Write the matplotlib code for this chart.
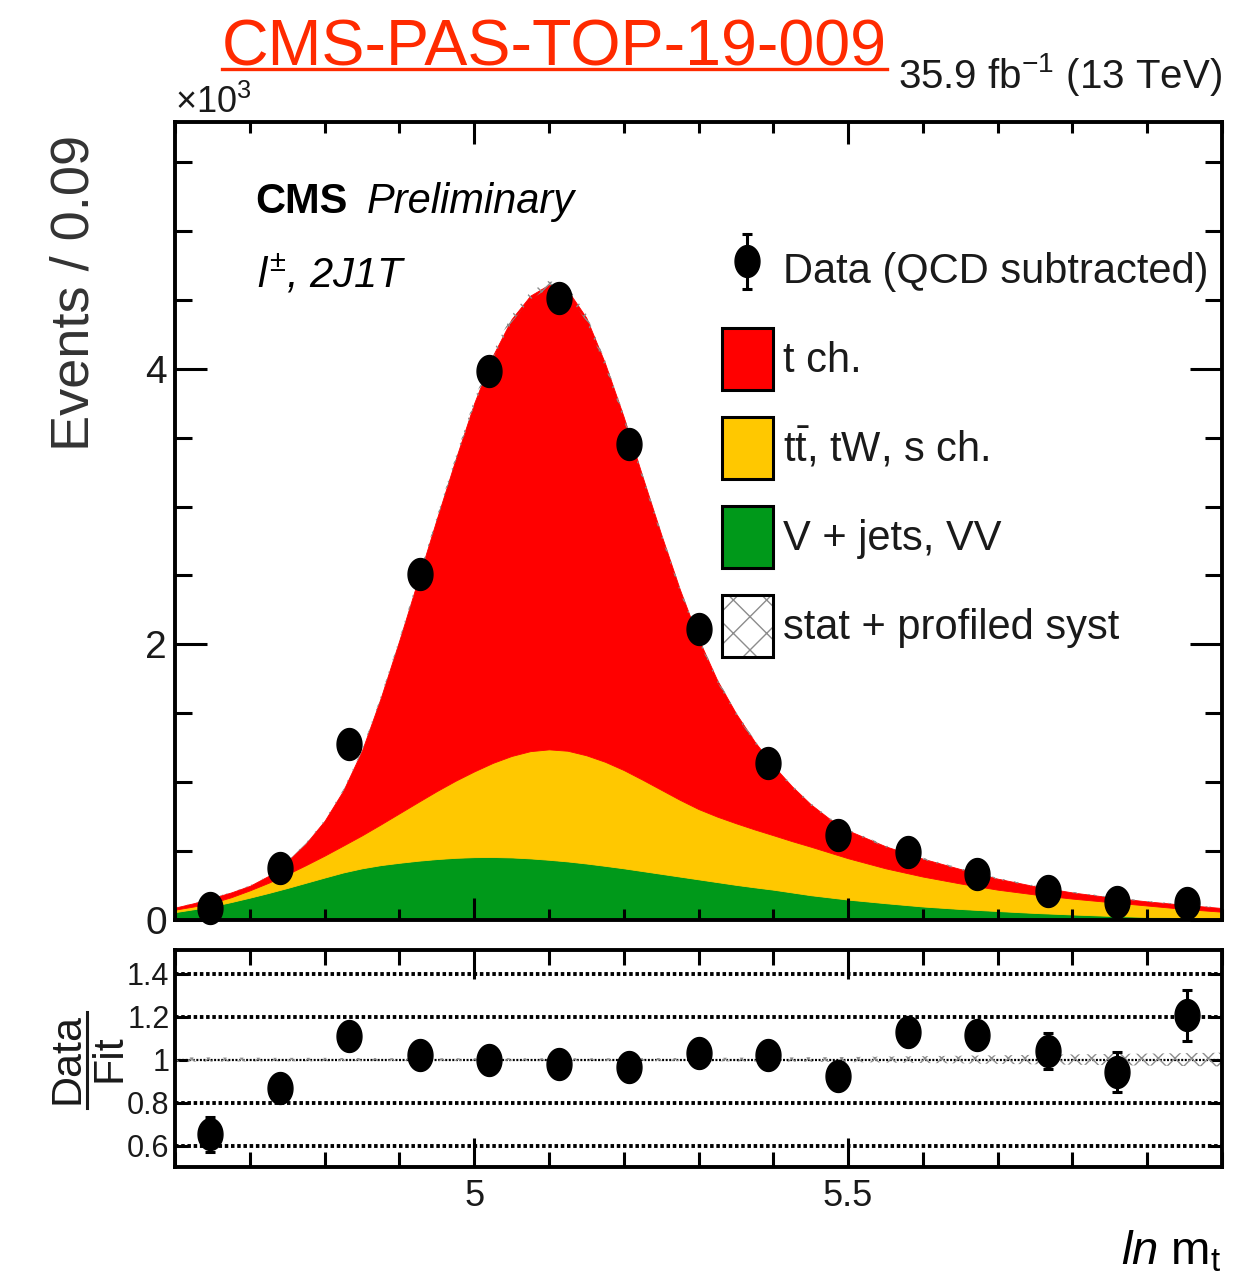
import numpy as np
import matplotlib
matplotlib.use("Agg")
import matplotlib.pyplot as plt
from matplotlib.path import Path
from matplotlib.patches import Patch
from matplotlib.lines import Line2D
from matplotlib.container import ErrorbarContainer
from matplotlib.legend_handler import HandlerErrorbar
from matplotlib.ticker import FixedLocator, MultipleLocator, FuncFormatter

# ---------------- data ----------------
bin_centers = [4.647, 4.740, 4.833, 4.927, 5.020, 5.113, 5.207, 5.300,
               5.393, 5.487, 5.580, 5.673, 5.767, 5.860, 5.953]
data_k = [0.085, 0.380, 1.280, 2.510, 3.980, 4.515, 3.455, 2.110,
          1.142, 0.617, 0.496, 0.334, 0.213, 0.133, 0.121]          # x10^3
data_err_k = [0.007, 0.016, 0.036, 0.050, 0.063, 0.067, 0.059, 0.046,
              0.034, 0.025, 0.022, 0.018, 0.015, 0.012, 0.011]
ratio = [0.652, 0.869, 1.109, 1.019, 1.000, 0.980, 0.964, 1.030,
         1.019, 0.925, 1.130, 1.115, 1.039, 0.942, 1.206]
ratio_err = [0.080, 0.040, 0.035, 0.025, 0.020, 0.020, 0.020, 0.025,
             0.030, 0.045, 0.050, 0.062, 0.085, 0.093, 0.118]

# smooth fit curves (stacked tops, x10^3 events / bin) sampled along ln m_t
grid = [4.600, 4.625, 4.650, 4.675, 4.700, 4.725, 4.750, 4.775, 4.800, 4.825,
        4.850, 4.875, 4.900, 4.925, 4.950, 4.975, 5.000, 5.025, 5.050, 5.075,
        5.100, 5.125, 5.150, 5.175, 5.200, 5.225, 5.250, 5.275, 5.300, 5.325,
        5.350, 5.375, 5.400, 5.425, 5.450, 5.475, 5.500, 5.550, 5.600, 5.650,
        5.700, 5.750, 5.800, 5.850, 5.900, 5.950, 6.000]
stack_vjets = [0.057, 0.078, 0.100, 0.130, 0.162, 0.196, 0.232, 0.270, 0.308, 0.345,
               0.375, 0.398, 0.415, 0.430, 0.442, 0.451, 0.456, 0.457, 0.454, 0.447,
               0.437, 0.425, 0.410, 0.393, 0.375, 0.355, 0.335, 0.315, 0.295, 0.275,
               0.255, 0.237, 0.220, 0.200, 0.180, 0.164, 0.148, 0.122, 0.098, 0.080,
               0.065, 0.051, 0.040, 0.030, 0.022, 0.017, 0.013]
stack_topbkg = [0.075, 0.098, 0.125, 0.165, 0.215, 0.270, 0.332, 0.398, 0.467, 0.540,
                0.614, 0.693, 0.774, 0.855, 0.935, 1.010, 1.078, 1.140, 1.190, 1.225,
                1.238, 1.228, 1.195, 1.148, 1.088, 1.018, 0.945, 0.872, 0.805, 0.750,
                0.702, 0.657, 0.615, 0.572, 0.532, 0.490, 0.448, 0.375, 0.315, 0.265,
                0.220, 0.185, 0.155, 0.130, 0.105, 0.080, 0.060]
stack_total = [0.090, 0.122, 0.160, 0.200, 0.248, 0.320, 0.425, 0.555, 0.720, 0.940,
               1.230, 1.610, 2.030, 2.470, 2.910, 3.340, 3.750, 4.095, 4.360, 4.530,
               4.610, 4.570, 4.370, 4.040, 3.650, 3.220, 2.800, 2.400, 2.040, 1.740,
               1.500, 1.295, 1.120, 0.970, 0.840, 0.735, 0.650, 0.535, 0.445, 0.370,
               0.300, 0.245, 0.200, 0.165, 0.135, 0.110, 0.087]
rel_unc = [0.010, 0.010, 0.010, 0.009, 0.009, 0.008, 0.008, 0.008, 0.008, 0.007,
           0.007, 0.007, 0.006, 0.006, 0.006, 0.006, 0.006, 0.006, 0.006, 0.006,
           0.006, 0.006, 0.006, 0.006, 0.006, 0.006, 0.007, 0.007, 0.008, 0.008,
           0.009, 0.009, 0.010, 0.010, 0.011, 0.011, 0.012, 0.014, 0.016, 0.018,
           0.020, 0.022, 0.024, 0.026, 0.028, 0.030, 0.032]

legend_labels = ["Data (QCD subtracted)", "t ch.", r"$\mathrm{t\bar{t}}$, tW, s ch.",
                 "V + jets, VV", "stat + profiled syst"]
x_ticks = [5.0, 5.5]
ratio_ticks = [0.6, 0.8, 1.0, 1.2, 1.4]

RED, YELLOW, GREEN = "#ff0000", "#ffc800", "#00991a"
BAND = "#8c8c8c"
TXT = "#1a1a1a"

# ---------------- style ----------------
FAM = ["Liberation Sans", "DejaVu Sans"]
plt.rcParams["font.family"] = FAM
plt.rcParams["mathtext.fontset"] = "custom"
plt.rcParams["mathtext.rm"] = "Liberation Sans"
plt.rcParams["mathtext.it"] = "Liberation Sans:italic"
plt.rcParams["mathtext.bf"] = "Liberation Sans:bold"
plt.rcParams["mathtext.sf"] = "Liberation Sans"
plt.rcParams["hatch.linewidth"] = 1.0

W, H = 1250, 1275
fig = plt.figure(figsize=(W / 100, H / 100), dpi=100)


def fx(px):
    return px / W


def fy(py):
    return 1 - py / H


ax = fig.add_axes([fx(175), fy(920), fx(1222) - fx(175), fy(122) - fy(920)])
axr = fig.add_axes([fx(175), fy(1167), fx(1222) - fx(175), fy(950) - fy(1167)])

g = np.array(grid)
vj_top = np.array(stack_vjets)
top_top = np.array(stack_topbkg)
tot = np.array(stack_total)
unc = np.array(rel_unc)

ax.fill_between(g, 0, vj_top, facecolor=GREEN, edgecolor=GREEN, lw=0.6, zorder=1)
ax.fill_between(g, vj_top, top_top, facecolor=YELLOW, edgecolor=YELLOW, lw=0.6, zorder=1)
ax.fill_between(g, top_top, tot, facecolor=RED, edgecolor=RED, lw=0.6, zorder=1)
ax.fill_between(g, tot * (1 - unc), tot * (1 + unc), facecolor="none",
                edgecolor=BAND, hatch="xx", lw=0, zorder=2)

theta = np.linspace(0, 2 * np.pi, 73)
ellipse = Path(np.column_stack([0.78 * np.cos(theta), np.sin(theta)]), closed=True)

eb = ax.errorbar(bin_centers, data_k, yerr=data_err_k, fmt="none", ecolor="k",
                 elinewidth=2.2, capsize=3.6, capthick=2.2, zorder=5)
pts = ax.plot(bin_centers, data_k, ls="none", marker=ellipse, ms=23,
              color="k", zorder=6, clip_on=False)[0]
data_handle = ax.errorbar([5.0], [-10], yerr=[0.3], fmt="none", ecolor="k",
                          elinewidth=2.2, capsize=3.6, capthick=2.2)

ax.set_xlim(4.6, 6.0)
ax.set_ylim(0, 5.79)
axr.set_xlim(4.6, 6.0)
axr.set_ylim(0.5, 1.51)

# ratio panel
axr.fill_between(g, 1 - unc, 1 + unc, facecolor="none", edgecolor=BAND,
                 hatch="xx", lw=0, zorder=2)
for yv in ratio_ticks:
    axr.axhline(yv, color="k", lw=2.8 if yv != 1.0 else 1.6,
                ls=(0, (0.9, 0.7)), zorder=1)
axr.errorbar(bin_centers, ratio, yerr=ratio_err, fmt="none", ecolor="k",
             elinewidth=2.2, capsize=3.6, capthick=2.2, zorder=5)
axr.plot(bin_centers, ratio, ls="none", marker=ellipse, ms=23, color="k", zorder=6)

# axes styling
for a in (ax, axr):
    for s in a.spines.values():
        s.set_linewidth(2.8)
        s.set_zorder(10)
    a.tick_params(which="both", direction="in", top=True, right=True,
                  width=2.2, colors="k", labelcolor=TXT)
    a.xaxis.set_major_locator(FixedLocator(x_ticks))
    a.xaxis.set_minor_locator(MultipleLocator(0.1))

ax.tick_params(axis="x", which="major", length=16)
ax.tick_params(axis="x", which="minor", length=8)
ax.tick_params(axis="y", which="major", length=23, labelsize=28, pad=6)
ax.tick_params(axis="y", which="minor", length=12)
ax.tick_params(axis="x", labelbottom=False)
ax.yaxis.set_major_locator(MultipleLocator(2))
ax.yaxis.set_minor_locator(MultipleLocator(0.5))
ax.yaxis.set_major_formatter(FuncFormatter(lambda v, p: "%g" % v))

axr.tick_params(axis="x", which="major", length=21, labelsize=26, pad=9)
axr.tick_params(axis="x", which="minor", length=11)
axr.tick_params(axis="y", which="major", length=9, labelsize=22, pad=4)
axr.yaxis.set_major_locator(FixedLocator(ratio_ticks))
axr.yaxis.set_minor_locator(FixedLocator([]))
axr.xaxis.set_major_formatter(FuncFormatter(lambda v, p: "%g" % v))
axr.yaxis.set_major_formatter(FuncFormatter(lambda v, p: "%g" % v))

# legend
h_red = Patch(facecolor=RED, edgecolor="k", lw=2.2)
h_yel = Patch(facecolor=YELLOW, edgecolor="k", lw=2.2)
h_grn = Patch(facecolor=GREEN, edgecolor="k", lw=2.2)
h_unc = (Patch(facecolor="white", edgecolor=BAND, hatch="x", lw=0),
         Patch(facecolor="none", edgecolor="k", lw=2.2))
handles = [(data_handle, pts), h_red, h_yel, h_grn, h_unc]
leg = ax.legend(handles, legend_labels, loc="upper left",
                bbox_to_anchor=((722 - 175) / 1047, (920 - 239) / 798),
                frameon=False, fontsize=30, handlelength=1.22, handleheight=1.91,
                handletextpad=0.24, labelspacing=0.65, borderpad=0,
                borderaxespad=0,
                handler_map={ErrorbarContainer: HandlerErrorbar(yerr_size=0.66)})
for t in leg.get_texts():
    t.set_color(TXT)

# texts
title = fig.text(fx(222), fy(65), "CMS-PAS-TOP-19-009", fontsize=46.5,
                 color="#ff2a00", ha="left", va="baseline")
fig.text(fx(1222), fy(88), r"35.9 fb$^{-1}$ (13 TeV)", fontsize=29, color=TXT,
         ha="right", va="baseline")
fig.text(fx(175), fy(113), r"$\times$10$^{3}$", fontsize=26, color=TXT,
         ha="left", va="baseline")
fig.text(fx(255), fy(213), "CMS", fontsize=30, fontweight="bold", color="k",
         ha="left", va="baseline")
fig.text(fx(367), fy(213), "Preliminary", fontsize=30, fontstyle="italic",
         color="k", ha="left", va="baseline")
fig.text(fx(257), fy(288), r"$l^{\pm}$, 2J1T", fontsize=30, fontstyle="italic",
         color="k", ha="left", va="baseline")
fig.text(fx(75), fy(135), "Events / 0.09", fontsize=39, color="#333333",
         rotation=90, ha="center", va="top")
fig.text(fx(67), fy(1058), "Data", fontsize=31, color=TXT,
         rotation=90, ha="center", va="center")
fig.text(fx(109), fy(1058), "Fit", fontsize=31, color=TXT,
         rotation=90, ha="center", va="center")
fig.add_artist(Line2D([fx(87), fx(87)], [fy(1012), fy(1108)], color=TXT, lw=2.2,
                      transform=fig.transFigure))
fig.text(fx(1222), fy(1265), r"$\mathit{ln}$ m$_{\mathrm{t}}$", fontsize=34,
         color="k", ha="right", va="baseline")

# underline for the title
fig.canvas.draw()
bb = title.get_window_extent(fig.canvas.get_renderer())
fig.add_artist(Line2D([bb.x0 / W, bb.x1 / W], [fy(69), fy(69)], color="#ff2a00",
                      lw=2.4, transform=fig.transFigure))

fig.savefig("out.png", dpi=100)
